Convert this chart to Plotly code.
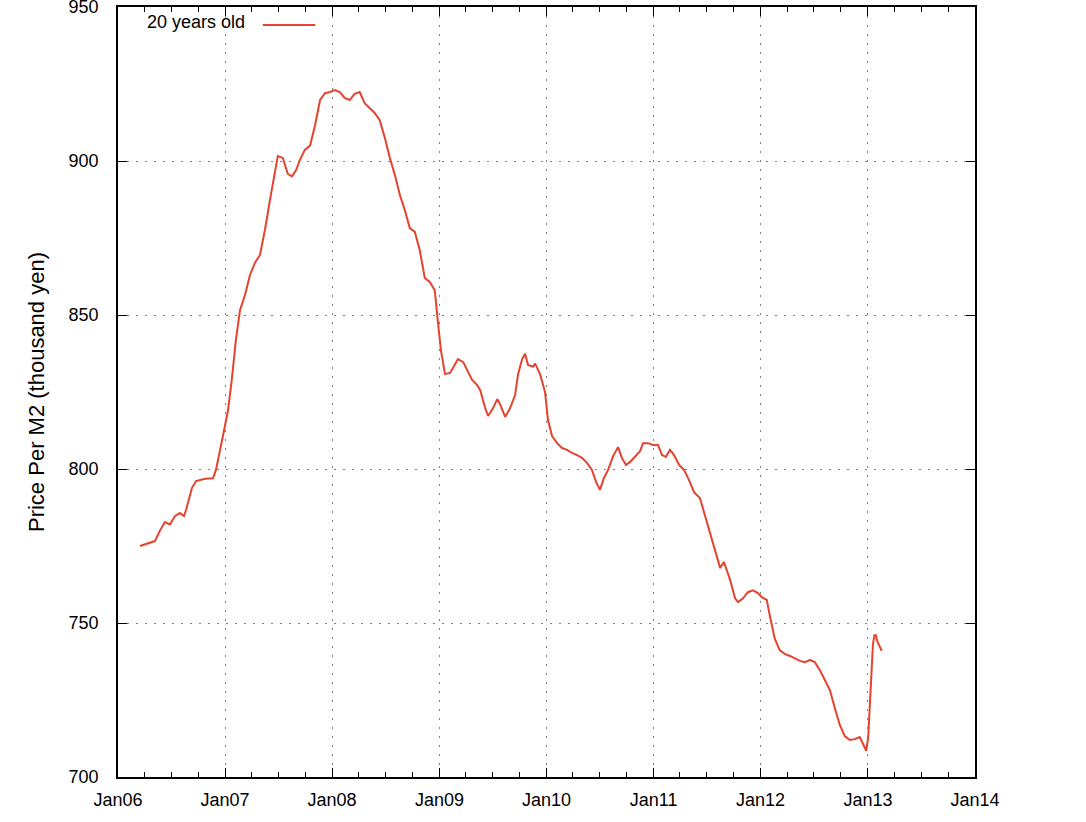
import plotly.graph_objects as go

dates = [
    "2006-03-17", "2006-04-03", "2006-04-20", "2006-05-07", "2006-05-24", "2006-06-10",
    "2006-06-27", "2006-07-14", "2006-07-31", "2006-08-14", "2006-08-21", "2006-09-10",
    "2006-09-24", "2006-10-25", "2006-11-21", "2006-12-01", "2006-12-22",
    "2007-01-11", "2007-01-24", "2007-02-07", "2007-02-21", "2007-03-10", "2007-03-27",
    "2007-04-13", "2007-04-30", "2007-05-17", "2007-06-03", "2007-06-20", "2007-06-30",
    "2007-07-17", "2007-08-03", "2007-08-17", "2007-08-31", "2007-09-13", "2007-09-30",
    "2007-10-18", "2007-11-04", "2007-11-21", "2007-12-08", "2007-12-25",
    "2008-01-10", "2008-01-27", "2008-02-13", "2008-03-01", "2008-03-18", "2008-04-04",
    "2008-04-21", "2008-05-08", "2008-05-25", "2008-06-11", "2008-06-29", "2008-07-16",
    "2008-08-02", "2008-08-19", "2008-09-05", "2008-09-22", "2008-10-09", "2008-10-26",
    "2008-11-12", "2008-11-29", "2008-12-16", "2008-12-26",
    "2009-01-06", "2009-01-20", "2009-02-06", "2009-02-16", "2009-03-05", "2009-03-23",
    "2009-04-09", "2009-04-22", "2009-05-09", "2009-05-20", "2009-06-06", "2009-06-16",
    "2009-07-03", "2009-07-17", "2009-07-27", "2009-08-13", "2009-08-30", "2009-09-16",
    "2009-09-26", "2009-10-10", "2009-10-20", "2009-10-30", "2009-11-16", "2009-11-23",
    "2009-12-10", "2009-12-27",
    "2010-01-06", "2010-01-20", "2010-02-06", "2010-02-23", "2010-03-12", "2010-03-29",
    "2010-04-15", "2010-05-02", "2010-05-19", "2010-06-05", "2010-06-19", "2010-07-02",
    "2010-07-16", "2010-07-30", "2010-08-16", "2010-09-02", "2010-09-15", "2010-09-29",
    "2010-10-13", "2010-10-30", "2010-11-16", "2010-11-26", "2010-12-13", "2010-12-30",
    "2011-01-16", "2011-01-30", "2011-02-12", "2011-02-26", "2011-03-12", "2011-03-29",
    "2011-04-15", "2011-05-02", "2011-05-19", "2011-06-08", "2011-06-25", "2011-07-12",
    "2011-07-29", "2011-08-16", "2011-08-29", "2011-09-19", "2011-10-06", "2011-10-16",
    "2011-11-02", "2011-11-19", "2011-12-06", "2011-12-23",
    "2012-01-05", "2012-01-22", "2012-02-01", "2012-02-18", "2012-03-06", "2012-03-24",
    "2012-04-10", "2012-04-27", "2012-05-14", "2012-05-31", "2012-06-17", "2012-07-04",
    "2012-07-21", "2012-08-07", "2012-08-24", "2012-09-10", "2012-09-27", "2012-10-14",
    "2012-10-31", "2012-11-17", "2012-12-04", "2012-12-17", "2012-12-26",
    "2013-01-02", "2013-01-08", "2013-01-13", "2013-01-18", "2013-01-23", "2013-01-28",
    "2013-02-02", "2013-02-09", "2013-02-17",
]

prices = [
    775.0, 775.6, 776.0, 776.6, 780.0, 782.8,
    782.0, 784.7, 785.7, 784.7, 786.7, 793.8,
    796.1, 796.8, 797.0, 799.7, 809.4,
    819.0, 829.0, 841.9, 851.6, 856.5, 863.0,
    867.0, 869.5, 877.6, 887.3, 897.0, 901.6,
    901.0, 895.8, 895.0, 897.0, 900.3, 903.6,
    905.0, 911.7, 919.8, 922.0, 922.4,
    923.0, 922.4, 920.5, 919.8, 921.8, 922.4,
    918.8, 917.2, 915.6, 913.3, 907.5, 901.0,
    895.5, 889.0, 884.0, 878.2, 877.0, 871.0,
    862.0, 860.7, 858.0, 848.4,
    838.6, 830.8, 831.2, 832.8, 835.7, 834.7,
    831.5, 829.0, 827.3, 825.6, 819.8, 817.2,
    819.8, 822.7, 821.0, 816.9, 819.8, 824.0,
    830.8, 835.7, 837.4, 833.8, 833.2, 834.2,
    830.8, 825.0,
    815.9, 810.7, 808.4, 806.8, 806.2, 805.2,
    804.5, 803.6, 802.0, 799.7, 795.8, 793.2,
    797.1, 799.7, 804.2, 807.1, 803.6, 801.3,
    802.3, 804.2, 805.8, 808.4, 808.4, 807.8,
    807.8, 804.5, 803.9, 806.2, 804.5, 801.3,
    799.7, 796.4, 792.5, 790.6, 785.0, 780.2,
    774.4, 767.9, 769.8, 764.0, 758.0, 756.8,
    758.0, 760.0, 760.6, 759.7,
    758.4, 757.5, 752.6, 745.0, 741.2, 739.9,
    739.3, 738.6, 737.7, 737.3, 738.0, 737.3,
    734.7, 731.5, 728.3, 722.4, 716.9, 713.3,
    712.0, 712.3, 713.0, 710.4, 708.5,
    713.0, 725.0, 736.0, 743.0, 746.0, 746.0,
    744.0, 742.5, 741.0,
]

year_ticks = ["2006-01-01", "2007-01-01", "2008-01-01", "2009-01-01", "2010-01-01",
              "2011-01-01", "2012-01-01", "2013-01-01", "2014-01-01"]
year_labels = ["Jan06", "Jan07", "Jan08", "Jan09", "Jan10", "Jan11", "Jan12", "Jan13", "Jan14"]
y_ticks = [700, 750, 800, 850, 900, 950]

series_name = "20 years old"
line_color = "#e5432f"
FAMILY = "Liberation Sans, Arial, sans-serif"

fig = go.Figure()
fig.add_trace(go.Scatter(x=dates, y=prices, mode="lines", name=series_name,
                         line=dict(color=line_color, width=2), showlegend=False))

font = dict(family=FAMILY, size=18, color="black")
grid_dash = "2px,7px"

fig.update_layout(
    width=1086, height=822,
    margin=dict(l=118, r=111, t=7, b=45),
    paper_bgcolor="white", plot_bgcolor="white",
    font=font,
    xaxis=dict(
        range=["2006-01-01", "2014-01-01"], automargin=False,
        tickmode="array", tickvals=year_ticks, ticktext=year_labels,
        ticks="inside", ticklen=9, tickwidth=1.2, tickcolor="black",
        showline=True, linecolor="black", linewidth=1.5, mirror="ticks",
        showgrid=True, gridcolor="#808080", griddash=grid_dash, gridwidth=1.3,
        zeroline=False, tickfont=font, ticklabelstandoff=6,
        ticklabeloverflow="allow",
        minor=dict(dtick="M3", tick0="2006-01-01", ticks="inside", ticklen=5,
                   tickcolor="black", tickwidth=1.2, showgrid=False),
    ),
    yaxis=dict(
        range=[700, 950], automargin=False,
        tickmode="array", tickvals=y_ticks,
        ticks="inside", ticklen=9, tickwidth=1.2, tickcolor="black",
        showline=True, linecolor="black", linewidth=1.5, mirror="ticks",
        showgrid=True, gridcolor="#808080", griddash=grid_dash, gridwidth=1.3,
        zeroline=False, tickfont=font, ticklabelstandoff=14,
        ticklabeloverflow="allow",
        title=dict(text="Price Per M2 (thousand yen)", font=dict(family=FAMILY, size=22),
                   standoff=18),
    ),
)

# legend drawn gnuplot-style: text first, then line sample
fig.add_annotation(x=0.0315, y=0.9805, xref="paper", yref="paper", text=series_name,
                   showarrow=False, xanchor="left", yanchor="middle",
                   font=dict(family=FAMILY, size=18, color="black"))
fig.add_shape(type="line", xref="paper", yref="paper", x0=0.169, x1=0.230,
              y0=0.9766, y1=0.9766, line=dict(color=line_color, width=2))

fig.write_html("out.html", config={"displayModeBar": False},
               post_script="document.body.style.margin='0';document.body.style.overflow='hidden';")
